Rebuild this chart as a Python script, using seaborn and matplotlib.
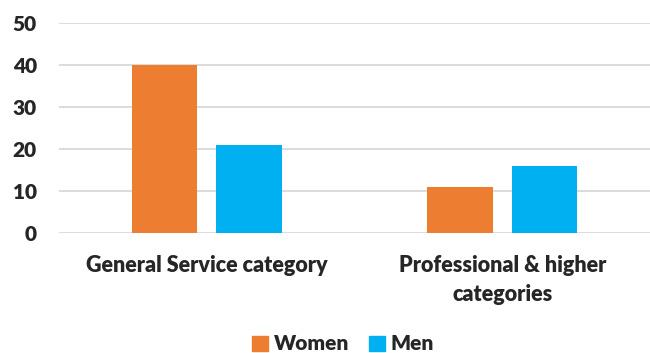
import matplotlib
matplotlib.use("Agg")
import matplotlib.pyplot as plt
import seaborn as sns
import pandas as pd

categories = ["General Service category", "Professional & higher\ncategories"]
series = ["Women", "Men"]
women = [40, 11]
men = [21, 16]
colors = {"Women": "#ED7D31", "Men": "#00B0F0"}

df = pd.DataFrame({
    "category": categories * 2,
    "sex": ["Women"] * len(categories) + ["Men"] * len(categories),
    "value": women + men,
})

sns.set_theme(style="white")
plt.rcParams["font.family"] = ["Lato", "DejaVu Sans"]

fig = plt.figure(figsize=(6.5, 3.53), dpi=100)
ax = fig.add_axes([59 / 650, 1 - 233 / 353, 591 / 650, 210 / 353])

sns.barplot(data=df, x="category", y="value", hue="sex", hue_order=series,
            palette=colors, width=0.572, gap=0.224, ax=ax, legend=True,
            saturation=1, edgecolor="none")

ax.set_ylim(0, 50)
ax.set_xlim(-0.5, 1.5)
ax.set_yticks([0, 10, 20, 30, 40, 50])
ax.yaxis.grid(True, color="#D9D9D9", linewidth=1.3)
ax.set_axisbelow(True)
for s in ax.spines.values():
    s.set_visible(False)
ax.set_xlabel("")
ax.set_ylabel("")
ax.tick_params(axis="both", length=0)
ax.tick_params(axis="y", pad=16)
ax.tick_params(axis="x", pad=16)
for lab in ax.get_yticklabels():
    lab.set_fontsize(15)
    lab.set_fontweight("heavy")
for lab in ax.get_xticklabels():
    lab.set_fontsize(15.5)
    lab.set_fontweight("heavy")
    lab.set_linespacing(1.45)

ax.legend_.remove()
handles = [plt.Rectangle((0, 0), 1, 1, color=colors[s]) for s in series]
fig.legend(handles, series, loc="center", bbox_to_anchor=(0.528, 1 - 344 / 353),
           ncol=2, frameon=False, handlelength=0.75, handleheight=0.75,
           handletextpad=0.3, columnspacing=0.95,
           prop={"weight": "heavy", "size": 15})

fig.savefig("out.png", dpi=100)
